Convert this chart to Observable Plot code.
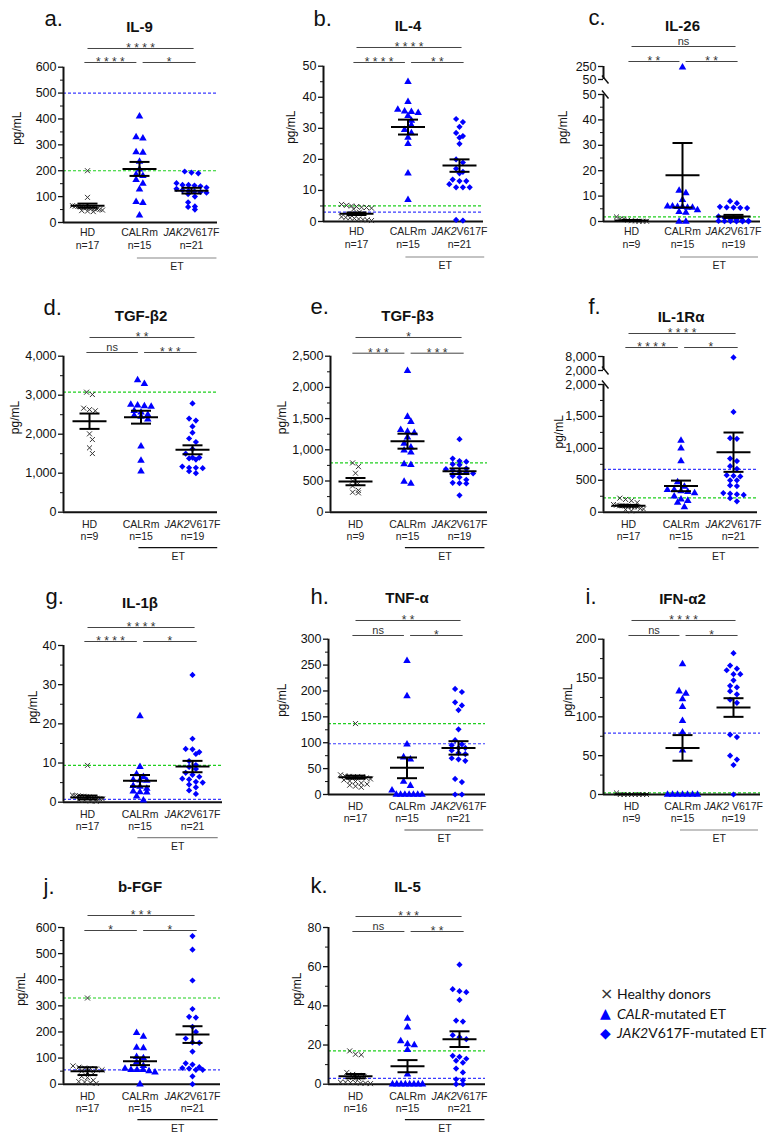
<!DOCTYPE html>
<html><head><meta charset="utf-8">
<script src="https://cdn.jsdelivr.net/npm/d3@7"></script>
<script src="https://cdn.jsdelivr.net/npm/@observablehq/plot@0.6"></script>
<style>
body{margin:0;background:#fff;}
#root{position:relative;width:781px;height:1142px;overflow:hidden;background:#fff;}
#legend{position:absolute;left:600px;top:984px;font-family:Lato,"Open Sans",sans-serif;font-size:14px;color:#111;}
#legend .row{display:flex;align-items:center;height:19.5px;white-space:nowrap;}
#legend .sym{display:inline-block;width:17px;font-family:"DejaVu Sans",sans-serif;text-align:left;}
</style></head><body><div id="root"></div>
<script>
// ---------- shared labels ----------
const GROUPS = ["HD", "CALRm", "JAK2V617F"];
const SERIES_ITALIC = ["", "CALR", "JAK2"];
const SERIES_REST = ["Healthy donors", "-mutated ET", "V617F-mutated ET"];

// ---------- a. IL-9 ----------
const il9_HD = [200, 97, 65, 63, 62, 60, 58, 57, 56, 55, 54, 52, 50, 48, 46, 44, 42];
const il9_CALR = [410, 330, 325, 272, 270, 235, 205, 185, 180, 165, 150, 128, 80, 76, 28];
const il9_JAK2 = [197, 193, 190, 152, 145, 145, 143, 140, 135, 130, 125, 122, 120, 118, 115, 110, 100, 78, 62, 60, 50];
const il9_n = [17, 15, 21], il9_mean = [65, 207, 123], il9_sem = [8, 27, 11];
const il9_blue = 500, il9_green = 200, il9_sig = ["****", "****", "*"];
const il9_ticks = [0, 100, 200, 300, 400, 500, 600];

// ---------- b. IL-4 ----------
const il4_HD = [5.5, 5.2, 5.0, 4.8, 4.6, 4.5, 4.3, 4.0, 3.0, 1.5, 1.3, 1.2, 1.0, 0.8, 0.6, 0.5, 0.3];
const il4_CALR = [45, 38.5, 36, 35.5, 35.3, 35, 34, 32.5, 31, 29.5, 28.5, 27, 25, 15.5, 7];
const il4_JAK2 = [33, 32, 30.5, 28.5, 27.5, 27, 25, 20, 19, 17, 16, 15.5, 13.5, 13, 13, 12, 11, 11, 11, 0.5, 0.3];
const il4_n = [17, 15, 21], il4_mean = [2.5, 30.4, 18], il4_sem = [0.4, 2.4, 2];
const il4_blue = 3, il4_green = 5, il4_sig = ["****", "****", "**"];
const il4_ticks = [0, 10, 20, 30, 40, 50];

// ---------- c. IL-26 (broken axis) ----------
const il26_HD = [1.8, 1.0, 0.5, 0.3, 0.2, 0.1, 0.1, 0.1, 0.9];
const il26_CALR = [236, 12.2, 11.2, 8.5, 6, 6, 5.8, 5.8, 5.5, 5.5, 4.5, 3.8, 3.5, 0, 0];
const il26_JAK2 = [8, 7.2, 5.8, 5.6, 5.5, 5.4, 5.3, 2, 1.5, 1, 0.8, 0.5, 0.3, 0.2, 0.1, 0.1, 0, 0, 0];
const il26_n = [9, 15, 19], il26_mean = [0.4, 18.2, 2], il26_sem = [0.2, 12.7, 0.6];
const il26_blue = null, il26_green = 1.8, il26_sig = ["ns", "**", "**"];
const il26_ticks = [0, 10, 20, 30, 40, 50], il26_ticksUp = [50, 250];

// ---------- d. TGF-β2 ----------
const tgfb2_HD = [3077, 3017, 2667, 2630, 2600, 2009, 1863, 1650, 1504];
const tgfb2_CALR = [3390, 3290, 2760, 2740, 2720, 2710, 2600, 2560, 2500, 2480, 2450, 2380, 1690, 1325, 1050];
const tgfb2_JAK2 = [2790, 2400, 2350, 2200, 2040, 1890, 1800, 1620, 1500, 1400, 1400, 1380, 1350, 1170, 1140, 1140, 1130, 1050, 1000];
const tgfb2_n = [9, 15, 19], tgfb2_mean = [2333, 2436, 1600], tgfb2_sem = [197, 165, 115];
const tgfb2_blue = null, tgfb2_green = 3080, tgfb2_sig = ["**", "ns", "***"];
const tgfb2_ticks = [0, 1000, 2000, 3000, 4000];

// ---------- e. TGF-β3 ----------
const tgfb3_HD = [790, 730, 625, 500, 460, 420, 350, 320, 310];
const tgfb3_CALR = [2265, 1530, 1450, 1320, 1290, 1270, 1200, 1100, 1040, 990, 960, 770, 760, 490, 460];
const tgfb3_JAK2 = [1170, 860, 820, 810, 770, 760, 700, 690, 670, 650, 640, 620, 580, 560, 520, 470, 465, 460, 270];
const tgfb3_n = [9, 15, 19], tgfb3_mean = [490, 1138, 657], tgfb3_sem = [58, 120, 45];
const tgfb3_blue = null, tgfb3_green = 790, tgfb3_sig = ["*", "***", "***"];
const tgfb3_ticks = [0, 500, 1000, 1500, 2000, 2500];

// ---------- f. IL-1Rα (broken axis) ----------
const il1ra_HD = [220, 200, 180, 150, 120, 110, 100, 100, 100, 95, 90, 85, 80, 60, 50, 40, 20];
const il1ra_CALR = [1120, 1000, 800, 470, 400, 350, 350, 330, 320, 300, 250, 200, 180, 150, 80];
const il1ra_JAK2 = [7600, 1570, 1160, 1150, 840, 800, 720, 680, 580, 570, 560, 500, 500, 420, 410, 300, 290, 280, 270, 220, 170];
const il1ra_n = [17, 15, 21], il1ra_mean = [100, 412, 940], il1ra_sem = [14, 83, 308];
const il1ra_blue = 670, il1ra_green = 225, il1ra_sig = ["****", "****", "*"];
const il1ra_ticks = [0, 500, 1000, 1500, 2000], il1ra_ticksUp = [2000, 8000];

// ---------- g. IL-1β ----------
const il1b_HD = [9.4, 1.8, 1.7, 1.6, 1.5, 1.5, 1.4, 1.3, 1.2, 1.1, 1.0, 0.9, 0.8, 0.6, 0.5, 0.3, 0.2];
const il1b_CALR = [22, 9, 7.2, 6.5, 5.7, 5.6, 5.5, 4.2, 4, 3.5, 2.8, 2.6, 2.5, 1.5, 0.5];
const il1b_JAK2 = [32.5, 16.2, 13.6, 13.5, 12.8, 12.3, 10.5, 9.5, 9.0, 8.5, 7.5, 7.0, 6.5, 6.0, 5.8, 5.2, 5.0, 4.5, 3.8, 3.0, 2.1];
const il1b_n = [17, 15, 21], il1b_mean = [1.2, 5.5, 9.1], il1b_sem = [0.5, 1.45, 1.45];
const il1b_blue = 0.7, il1b_green = 9.4, il1b_sig = ["****", "****", "*"];
const il1b_ticks = [0, 10, 20, 30, 40];

// ---------- h. TNF-α ----------
const tnfa_HD = [137, 38, 36, 35, 34, 34, 34, 32, 30, 28, 26, 25, 22, 20, 18, 16, 14];
const tnfa_CALR = [258, 190, 97, 72, 68, 25, 17, 8, 0, 0, 0, 0, 0, 0, 0];
const tnfa_JAK2 = [204, 198, 178, 172, 163, 126, 105, 97, 95, 90, 90, 85, 80, 78, 70, 68, 65, 30, 24, 0, 0];
const tnfa_n = [17, 15, 21], tnfa_mean = [33.5, 51.5, 90], tnfa_sem = [3, 20, 13];
const tnfa_blue = 98, tnfa_green = 137, tnfa_sig = ["**", "ns", "*"];
const tnfa_ticks = [0, 50, 100, 150, 200, 250, 300];

// ---------- i. IFN-α2 ----------
const ifna2_HD = [2, 0, 0, 0, 0, 0, 0, 0, 0];
const ifna2_CALR = [168, 133, 130, 123, 113, 95, 80, 57, 0, 0, 0, 0, 0, 0, 0];
const ifna2_JAK2 = [182, 166, 162, 160, 155, 155, 147, 140, 138, 133, 129, 122, 118, 77, 74, 50, 45, 38, 0];
const ifna2_n = [9, 15, 19], ifna2_mean = [0.2, 60, 112], ifna2_sem = [0, 16.5, 12];
const ifna2_blue = 79, ifna2_green = 2, ifna2_sig = ["****", "ns", "*"];
const ifna2_ticks = [0, 50, 100, 150, 200];

// ---------- j. b-FGF ----------
const bfgf_HD = [330, 70, 65, 62, 60, 58, 55, 50, 45, 40, 30, 25, 15, 10, 8, 5, 3];
const bfgf_CALR = [197, 182, 140, 138, 105, 100, 85, 70, 60, 55, 55, 55, 50, 45, 0];
const bfgf_JAK2 = [567, 515, 397, 288, 258, 255, 220, 200, 175, 160, 158, 125, 80, 75, 65, 62, 60, 55, 55, 30, 0];
const bfgf_n = [17, 15, 21], bfgf_mean = [50, 88, 190], bfgf_sem = [15, 15, 32];
const bfgf_blue = 55, bfgf_green = 330, bfgf_sig = ["***", "*", "*"];
const bfgf_ticks = [0, 100, 200, 300, 400, 500, 600];

// ---------- k. IL-5 ----------
const il5_HD = [17, 15.3, 15, 6, 5, 4.5, 4, 3.5, 3, 1, 1, 0.8, 0.8, 0.5, 0.5, 0.3];
const il5_CALR = [33.5, 29, 22, 20.5, 20, 17.5, 5, 0, 0, 0, 0, 0, 0, 0, 0];
const il5_JAK2 = [61, 48.5, 47.5, 47, 43, 32.5, 32, 25, 24, 23, 14.5, 14, 13, 12, 11, 8, 6, 2.5, 2, 0, 0];
const il5_n = [16, 15, 21], il5_mean = [4.1, 9.2, 23], il5_sem = [1.1, 3.1, 4];
const il5_blue = 3, il5_green = 17, il5_sig = ["***", "ns", "**"];
const il5_ticks = [0, 20, 40, 60, 80];

// ---------- panel layout (positions & styles only) ----------
const panels = [
  {letter:"a.", title:"IL-9", ox:0, oy:0, data:[il9_HD, il9_CALR, il9_JAK2], n:il9_n, mean:il9_mean, sem:il9_sem, blue:il9_blue, green:il9_green, sig:il9_sig, ticks:il9_ticks, minor:50,
   L:{ax:63, g0:87, g2:191, right:217, y0:222, yTop:66.7, sigLow:62, sigTop:48, tb:31.7, lx:44, lb:26, ylx:17, xl1:10.5, xl2:23, et:"#888"}},
  {letter:"b.", title:"IL-4", ox:260, oy:0, data:[il4_HD, il4_CALR, il4_JAK2], n:il4_n, mean:il4_mean, sem:il4_sem, blue:il4_blue, green:il4_green, sig:il4_sig, ticks:il4_ticks, minor:5,
   L:{ax:63, g0:96, g2:199, right:223, y0:221, yTop:65.7, sigLow:62, sigTop:47, tb:30.7, lx:53, lb:26, ylx:31, xl1:10.5, xl2:23, et:"#888"}},
  {letter:"c.", title:"IL-26", ox:520, oy:0, data:[il26_HD, il26_CALR, il26_JAK2], n:il26_n, mean:il26_mean, sem:il26_sem, blue:il26_blue, green:il26_green, sig:il26_sig, ticks:il26_ticks, ticksUp:il26_ticksUp, minor:5,
   brk:{lowMax:50, lowTopPx:94, gap:15, upPx:13, upMin:50, upMax:250},
   L:{ax:83, g0:111, g2:213, right:240, y0:221, sigLow:61, sigTop:46, tb:30.7, lx:68, lb:24, ylx:43, xl1:10.5, xl2:23, et:"#888"}},
  {letter:"d.", title:"TGF-β2", ox:0, oy:285, data:[tgfb2_HD, tgfb2_CALR, tgfb2_JAK2], n:tgfb2_n, mean:tgfb2_mean, sem:tgfb2_sem, blue:tgfb2_blue, green:tgfb2_green, sig:tgfb2_sig, ticks:tgfb2_ticks, minor:500,
   L:{ax:63, g0:89, g2:192, right:217, y0:226.7, yTop:70.7, sigLow:67, sigTop:52, tb:35, lx:43, lb:29, ylx:15, et:"#111"}},
  {letter:"e.", title:"TGF-β3", ox:260, oy:285, data:[tgfb3_HD, tgfb3_CALR, tgfb3_JAK2], n:tgfb3_n, mean:tgfb3_mean, sem:tgfb3_sem, blue:tgfb3_blue, green:tgfb3_green, sig:tgfb3_sig, ticks:tgfb3_ticks, minor:250,
   L:{ax:70, g0:95, g2:199, right:227, y0:226.7, yTop:70.7, sigLow:67.7, sigTop:52, tb:35, lx:50, lb:28, ylx:21.7, et:"#111"}},
  {letter:"f.", title:"IL-1Rα", ox:520, oy:285, data:[il1ra_HD, il1ra_CALR, il1ra_JAK2], n:il1ra_n, mean:il1ra_mean, sem:il1ra_sem, blue:il1ra_blue, green:il1ra_green, sig:il1ra_sig, ticks:il1ra_ticks, ticksUp:il1ra_ticksUp, minor:250,
   brk:{lowMax:2000, lowTopPx:99, gap:14, upPx:14, upMin:2000, upMax:8000},
   L:{ax:83, g0:108, g2:213, right:237, y0:226.7, sigLow:62, sigTop:48, tb:36, lx:68, lb:28, ylx:39, yly:163, et:"#333"}},
  {letter:"g.", title:"IL-1β", ox:0, oy:570, data:[il1b_HD, il1b_CALR, il1b_JAK2], n:il1b_n, mean:il1b_mean, sem:il1b_sem, blue:il1b_blue, green:il1b_green, sig:il1b_sig, ticks:il1b_ticks, minor:5,
   L:{ax:63, g0:87, g2:192, right:222, y0:231.7, yTop:75, sigLow:71, sigTop:57, tb:37, lx:45, lb:33, ylx:33, et:"#888"}},
  {letter:"h.", title:"TNF-α", ox:260, oy:570, data:[tnfa_HD, tnfa_CALR, tnfa_JAK2], n:tnfa_n, mean:tnfa_mean, sem:tnfa_sem, blue:tnfa_blue, green:tnfa_green, sig:tnfa_sig, ticks:tnfa_ticks, minor:25,
   L:{ax:68, g0:95, g2:198, right:225, y0:224, yTop:68.7, sigLow:65, sigTop:50, tb:32.7, lx:50, lb:33, ylx:22, et:"#555"}},
  {letter:"i.", title:"IFN-α2", ox:520, oy:570, data:[ifna2_HD, ifna2_CALR, ifna2_JAK2], n:ifna2_n, mean:ifna2_mean, sem:ifna2_sem, blue:ifna2_blue, green:ifna2_green, sig:ifna2_sig, ticks:ifna2_ticks, minor:25, jakSpace:true,
   L:{ax:83, g0:111, g2:213, right:240, y0:224, yTop:68.7, sigLow:65, sigTop:50, tb:33, lx:65, lb:33, ylx:48, et:"#888"}},
  {letter:"j.", title:"b-FGF", ox:0, oy:855, data:[bfgf_HD, bfgf_CALR, bfgf_JAK2], n:bfgf_n, mean:bfgf_mean, sem:bfgf_sem, blue:bfgf_blue, green:bfgf_green, sig:bfgf_sig, ticks:bfgf_ticks, minor:50,
   L:{ax:63, g0:87, g2:192, right:220, y0:228.7, yTop:72, sigLow:75, sigTop:60, tb:36.7, lx:43, lb:38, ylx:21, et:"#111"}},
  {letter:"k.", title:"IL-5", ox:260, oy:855, data:[il5_HD, il5_CALR, il5_JAK2], n:il5_n, mean:il5_mean, sem:il5_sem, blue:il5_blue, green:il5_green, sig:il5_sig, ticks:il5_ticks, minor:10,
   L:{ax:68, g0:95, g2:199, right:225, y0:228.7, yTop:72, sigLow:76, sigTop:61, tb:36, lx:50, lb:37, ylx:37, et:"#111"}}
];

const BLUE = "#0000ff", REFBLUE = "#3b3bff", GREEN = "#1fcf1f", INK = "#111";
const fmt = d3.format(",");
const root = document.getElementById("root");

function buildPanel(P) {
  const L = P.L, W = 260, H = 285;
  const br = P.brk;
  let disp, dispUp, dispMax, yTop, pxPerU;
  if (br) {
    pxPerU = (L.y0 - br.lowTopPx) / br.lowMax;
    dispUp = v => br.lowMax + (br.gap + (v - br.upMin) / (br.upMax - br.upMin) * br.upPx) / pxPerU;
    disp = v => v <= br.lowMax ? v : dispUp(v);
    dispMax = dispUp(br.upMax);
    yTop = L.y0 - dispMax * pxPerU;
  } else {
    dispMax = P.ticks[P.ticks.length - 1];
    disp = v => v;
    yTop = L.yTop;
    pxPerU = (L.y0 - yTop) / dispMax;
  }
  const sp = (L.g2 - L.g0) / 2;
  const xAt = px => (px - L.g0) / sp;
  const yAt = py => (L.y0 - py) / pxPerU;
  const yPx = v => L.y0 - disp(v) * pxPerU;

  // GraphPad-style spreading: points binned into rows by pixel height, rows spread symmetrically
  const pts = [[], [], []];
  P.data.forEach((vals, gi) => {
    const step = gi === 0 ? 5.8 : 6.8, maxW = 30, bin = 4.5;
    const items = vals.map(v => ({v, py: yPx(v)})).sort((a, b) => a.py - b.py);
    const rows = [];
    for (const it of items) {
      const r = rows[rows.length - 1];
      if (r && it.py - r[0].py <= bin) r.push(it); else rows.push([it]);
    }
    rows.forEach((r, ri) => {
      const k = r.length;
      const s = k > 1 ? Math.min(step, maxW / (k - 1)) : 0;
      let shift = 0;
      if (k === 1 && ri > 0 && rows[ri - 1].length % 2 === 1 && r[0].py - rows[ri - 1][0].py < 6) shift = step / 2;
      r.forEach((it, i) => {
        const off = (i - (k - 1) / 2) * s + shift;
        pts[gi].push({x: gi + off / sp, y: disp(it.v)});
      });
    });
  });

  // mean and SEM
  const ms = [];
  P.mean.forEach((m, i) => {
    const s = P.sem[i], hm = 17 / sp, hc = 10 / sp;
    ms.push({x1: i - hm, x2: i + hm, y1: disp(m), y2: disp(m)});
    if (s > 0) {
      const lo = disp(Math.max(0, m - s)), hi = disp(m + s);
      ms.push({x1: i - hc, x2: i + hc, y1: hi, y2: hi});
      ms.push({x1: i - hc, x2: i + hc, y1: lo, y2: lo});
      ms.push({x1: i, x2: i, y1: lo, y2: hi});
    }
  });

  // ticks
  const labels = new Map();
  const major = [];
  P.ticks.forEach(v => { major.push(v); labels.set(v, fmt(v)); });
  if (br) P.ticksUp.forEach(v => { const d = dispUp(v); major.push(d); labels.set(d, fmt(v)); });
  const lowMax = br ? br.lowMax : dispMax;
  const minor = d3.range(0, lowMax + 1e-9, P.minor).filter(v => !P.ticks.includes(v));

  const marks = [];
  if (P.green != null) marks.push(Plot.ruleY([P.green], {y: d => disp(d), stroke: GREEN, strokeDasharray: "3,2", strokeWidth: 1.2}));
  if (P.blue != null) marks.push(Plot.ruleY([P.blue], {y: d => disp(d), stroke: REFBLUE, strokeDasharray: "3,2", strokeWidth: 1.2}));

  // axes lines
  marks.push(Plot.ruleX([xAt(L.ax)], {x: d => d, y1: 0, y2: lowMax, stroke: INK, strokeWidth: 2}));
  if (br) {
    marks.push(Plot.ruleX([xAt(L.ax)], {x: d => d, y1: dispUp(br.upMin), y2: dispMax, stroke: INK, strokeWidth: 2}));
    const brkMarks = [br.lowMax, dispUp(br.upMin)].map(d => {
      const py = L.y0 - d * pxPerU;
      return {x1: xAt(L.ax - 1.5), x2: xAt(L.ax + 5), y1: yAt(py - 4), y2: yAt(py + 4)};
    });
    marks.push(Plot.link(brkMarks, {x1: "x1", x2: "x2", y1: "y1", y2: "y2", stroke: INK, strokeWidth: 1.5}));
  }
  marks.push(Plot.ruleY([0], {stroke: INK, strokeWidth: 2}));
  marks.push(Plot.axisY({anchor: "left", ticks: major, tickFormat: d => labels.get(d), tickSize: 5, tickPadding: 2, fontSize: 12.5, label: null, strokeWidth: 1.3}));
  marks.push(Plot.axisY({anchor: "left", ticks: minor, tickFormat: () => "", tickSize: 3, label: null}));

  // y label
  const midY = (yTop + L.y0) / 2;
  marks.push(Plot.text(["pg/mL"], {frameAnchor: "left", text: d => d, dx: L.ylx - L.ax, dy: (L.yly ? L.yly - midY : 0), rotate: -90, fontSize: 12, fill: INK}));

  // points
  marks.push(Plot.dot(pts[0], {x: "x", y: "y", symbol: "times", r: 2.4, stroke: "#333", strokeWidth: 1}));
  marks.push(Plot.dot(pts[1], {x: "x", y: "y", symbol: "triangle", r: 2.8, fill: BLUE, stroke: null}));
  marks.push(Plot.dot(pts[2], {x: "x", y: "y", symbol: "diamond2", r: 2.8, fill: BLUE, stroke: null}));

  // mean ± SEM
  marks.push(Plot.link(ms, {x1: "x1", x2: "x2", y1: "y1", y2: "y2", stroke: "#000", strokeWidth: 2}));

  // significance bars
  const low = [{x1: -0.06, x2: 0.94, t: P.sig[1]}, {x1: 1.06, x2: 2.08, t: P.sig[2]}];
  const top = [{x1: 0, x2: 2.04, t: P.sig[0]}];
  [[low, L.sigLow], [top, L.sigTop]].forEach(([bars, py]) => {
    marks.push(Plot.link(bars, {x1: "x1", x2: "x2", y1: () => dispMax, y2: () => dispMax, dy: py - yTop, stroke: "#444", strokeWidth: 1}));
    const stars = bars.filter(b => b.t !== "ns"), ns = bars.filter(b => b.t === "ns");
    marks.push(Plot.text(stars, {x: b => (b.x1 + b.x2) / 2, y: () => dispMax, text: b => b.t.split("").join(" "), dy: py - yTop + 3.5, lineAnchor: "bottom", fontSize: 12, fill: "#333"}));
    marks.push(Plot.text(ns, {x: b => (b.x1 + b.x2) / 2, y: () => dispMax, text: "t", dy: py - yTop - 1.5, lineAnchor: "bottom", fontSize: 11, fill: "#333"}));
  });

  // x labels
  const xl1 = L.xl1 || 12, xl2 = L.xl2 || 24;
  marks.push(Plot.text([0, 1], {x: d => d, y: () => 0, text: d => GROUPS[d], dy: xl1, fontSize: 10.5, fill: "#222"}));
  const jakEnd = P.jakSpace ? -4.5 : -3, jakStart = P.jakSpace ? -1.5 : -3;
  marks.push(Plot.text([2], {x: d => d, y: () => 0, text: () => "JAK2", dy: xl1, dx: jakEnd, textAnchor: "end", fontStyle: "italic", fontSize: 10.5, fill: "#222"}));
  marks.push(Plot.text([2], {x: d => d, y: () => 0, text: () => "V617F", dy: xl1, dx: jakStart, textAnchor: "start", fontSize: 10.5, fill: "#222"}));
  marks.push(Plot.text([0, 1, 2], {x: d => d, y: () => 0, text: d => "n=" + P.n[d], dy: xl2, fontSize: 10.5, fill: "#222"}));
  // ET bracket
  marks.push(Plot.link([{x1: 0.95, x2: 2.48}], {x1: "x1", x2: "x2", y1: () => 0, y2: () => 0, dy: 35.5, stroke: L.et, strokeWidth: 1.2}));
  marks.push(Plot.text(["ET"], {x: () => 1.72, y: () => 0, text: d => d, dy: 44.5, fontSize: 10.5, fill: "#222"}));

  // title and letter
  marks.push(Plot.text([P.title], {x: () => 1, y: () => dispMax, text: d => d, dy: L.tb - yTop, lineAnchor: "bottom", fontWeight: "bold", fontSize: 15, fill: INK}));
  marks.push(Plot.text([P.letter], {frameAnchor: "top-left", text: d => d, dx: L.lx - L.ax, dy: L.lb - yTop, textAnchor: "start", lineAnchor: "bottom", fontSize: 22, fill: INK}));

  const svg = Plot.plot({
    width: W, height: H,
    marginLeft: L.ax, marginRight: W - L.right, marginTop: yTop, marginBottom: H - L.y0,
    x: {domain: [0, 2], range: [L.g0, L.g2], axis: null},
    y: {domain: [0, dispMax], range: [L.y0, yTop], axis: null},
    style: {fontFamily: '"Liberation Sans", Arial, sans-serif', fontSize: "12px", background: "transparent", overflow: "visible", color: INK},
    marks
  });
  svg.style.position = "absolute";
  svg.style.left = P.ox + "px";
  svg.style.top = P.oy + "px";
  root.appendChild(svg);
}

panels.forEach(buildPanel);

// legend
const legend = document.createElement("div");
legend.id = "legend";
const syms = [["×", "#333", "16px"], ["▲", BLUE, "14px"], ["◆", BLUE, "14px"]];
SERIES_REST.forEach((rest, i) => {
  const row = document.createElement("div");
  row.className = "row";
  const s = document.createElement("span");
  s.className = "sym";
  s.textContent = syms[i][0];
  s.style.color = syms[i][1];
  s.style.fontSize = syms[i][2];
  row.appendChild(s);
  const t = document.createElement("span");
  if (SERIES_ITALIC[i]) {
    const it = document.createElement("i");
    it.textContent = SERIES_ITALIC[i];
    t.appendChild(it);
  }
  t.appendChild(document.createTextNode(rest));
  row.appendChild(t);
  legend.appendChild(row);
});
root.appendChild(legend);
</script>
</body></html>
